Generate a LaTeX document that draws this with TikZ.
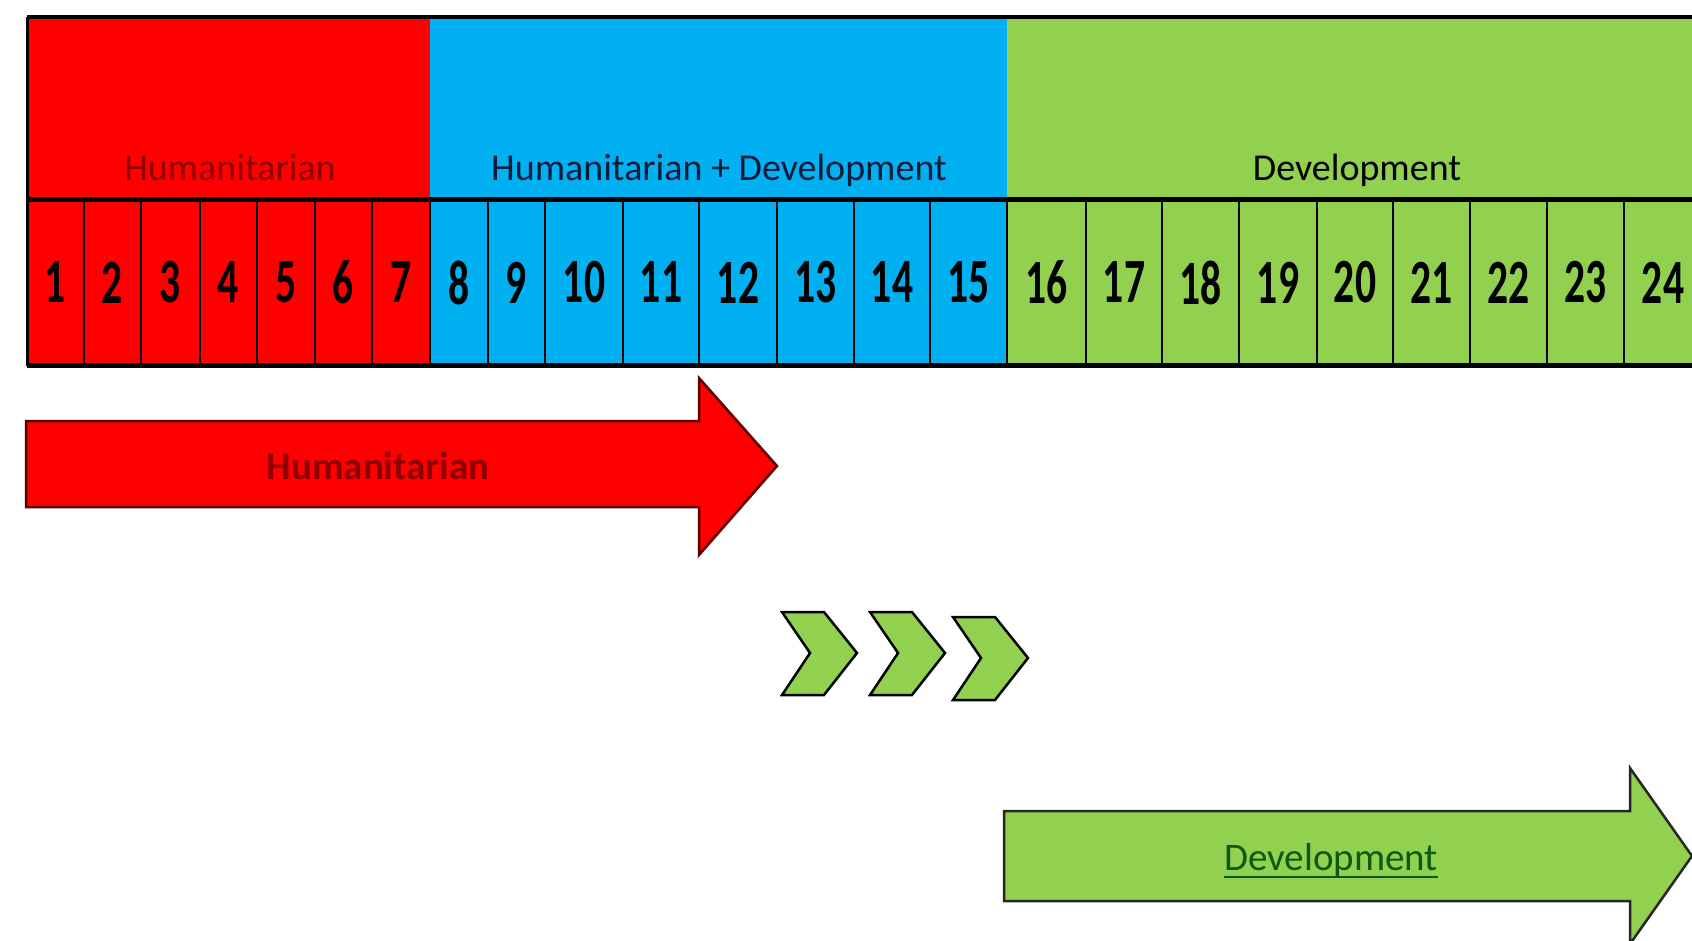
\documentclass[tikz,border=0pt]{standalone}
\usepackage{fontspec}
\setmainfont{Carlito}
\newfontfamily\numfont{Carlito}[FakeStretch=0.66]
\definecolor{hred}{HTML}{FF0000}
\definecolor{hblue}{HTML}{00B0F0}
\definecolor{hgreen}{HTML}{92D050}
\definecolor{txtred}{HTML}{8E0000}
\definecolor{txtnavy}{HTML}{0E1A3A}
\definecolor{txtgreen}{HTML}{0B5A10}
\definecolor{edgered}{HTML}{5A0000}
\begin{document}
\begin{tikzpicture}[x=1pt,y=-1pt,
  hdrbox/.style={inner sep=0pt,outer sep=0pt,minimum height=183pt},
  hdrtxt/.style={inner sep=0pt,anchor=base,font=\fontsize{38}{40}\selectfont},
  cellbox/.style={draw=black,line width=2.5pt,inner sep=0pt,outer sep=0pt,minimum height=165pt,
    font=\numfont\bfseries\fontsize{63}{64}\selectfont},
  arrowred/.style={fill=hred,draw=edgered,line width=2.5pt,line join=miter},
  arrowgreen/.style={fill=hgreen,draw=black!85,line width=2.5pt,line join=miter},
  chevron/.style={fill=hgreen,draw=black,line width=2.5pt,line join=miter},
  arrowtxt/.style={inner sep=0pt,anchor=base,font=\fontsize{39}{41}\selectfont}]
\useasboundingbox (0,0) rectangle (1692,941);
\fill[white] (0,0) rectangle (1692,941);
\begin{scope}
\clip (0,0) rectangle (1692,941);
% header bands
\node[hdrbox,fill=hred,minimum width=403pt] (hb1) at (228.5,108.5) {};
\node[hdrbox,fill=hblue,minimum width=577pt] (hb2) at (718.5,108.5) {};
\node[hdrbox,fill=hgreen,minimum width=700pt] (hb3) at (1357,108.5) {};
\node[hdrtxt,text=txtred] (ht1) at (230,181) {Humanitarian};
\node[hdrtxt,text=txtnavy] (ht2) at (719,181) {Humanitarian + Development};
\node[hdrtxt,text=black] (ht3) at (1357,181) {Development};
% cells
\foreach \i/\l/\r/\c in {1/27/84/hred,2/84/141/hred,3/141/200/hred,4/200/257/hred,
  5/257/315/hred,6/315/372/hred,7/372/430/hred,8/430/488/hblue,9/488/545/hblue,
  10/545/623/hblue,11/623/699/hblue,12/699/777/hblue,13/777/854/hblue,
  14/854/930/hblue,15/930/1007/hblue,16/1007/1086/hgreen,17/1086/1162/hgreen,
  18/1162/1239/hgreen,19/1239/1317/hgreen,20/1317/1393/hgreen,21/1393/1470/hgreen,
  22/1470/1547/hgreen,23/1547/1624/hgreen,24/1624/1702/hgreen}{
  \node[cellbox,fill=\c,minimum width={(\r-\l)*1pt}] (c\i) at ({(\l+\r)/2},282.5) {\i};
}
% thick rules of the table
\draw[line width=4pt] (hb1.north west) -- (hb3.north east);
\draw[line width=5pt] (c1.north west) -- (c24.north east);
\draw[line width=5pt] (c1.south west) -- (c24.south east);
\draw[line width=3pt] (hb1.north west) -- (c1.south west);
% red arrow
\draw[arrowred] (26,421) -- (699,421) -- (699,378) -- (777,466) -- (699,555) -- (699,507) -- (26,507) -- cycle;
\node[arrowtxt,text=txtred,font=\bfseries\fontsize{39}{41}\selectfont] (ra) at (378,479) {Humanitarian};
% chevrons
\foreach \k/\x/\y in {1/782/612,2/870/612,3/953/617}{
  \draw[chevron] (\x,\y) -- ++(42,0) -- ++(33,41) -- ++(-33,42) -- ++(-42,0) -- ++(28,-42) -- cycle;
}
% green arrow
\draw[arrowgreen] (1004,811) -- (1630,811) -- (1630,768) -- (1692,856) -- (1630,944) -- (1630,901) -- (1004,901) -- cycle;
\node[arrowtxt,text=txtgreen] (ga) at (1331,870) {Development};
\draw[txtgreen,line width=2.5pt] ([yshift=-7pt]ga.base west) -- ([yshift=-7pt]ga.base east);
\end{scope}
\end{tikzpicture}
\end{document}
